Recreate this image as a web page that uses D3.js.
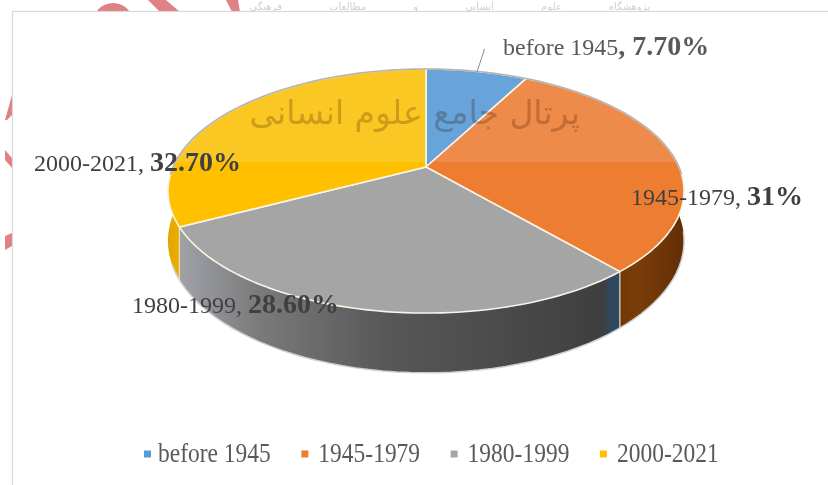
<!DOCTYPE html>
<html>
<head>
<meta charset="utf-8">
<script src="https://d3js.org/d3.v7.min.js"></script>
<style>
html, body { margin: 0; background: #fff; }
svg { display: block; }
text { font-family: "Liberation Serif", serif; }
</style>
</head>
<body>
<div id="chart"></div>
<script>
'use strict'

const categories = ['before 1945', '1945-1979', '1980-1999', '2000-2021']
const shares = [7.7, 31, 28.6, 32.7]
const shareLabels = ['7.70%', '31%', '28.60%', '32.70%']
const topColors = ['#5b9bd5', '#ed7d31', '#a5a5a5', '#ffc000']
const upperColors = ['#68a3da', '#ee8a4a', '#a8a8a8', '#fbc722']

const width = 828,
    height = 485

const svg = d3.select('#chart')
    .append('svg')
    .attr('width', width)
    .attr('height', height)

const defs = svg.append('defs')

defs.append('filter')
    .attr('id', 'scan')
    .append('feGaussianBlur')
    .attr('stdDeviation', 0.6)

// page behind the chart frame
const frame = { x: 12.5, y: 11.5 }

const decor = svg.append('g').attr('fill', '#df8285')
decor.append('circle').attr('cx', 113).attr('cy', 23).attr('r', 20)
decor.append('path').attr('d', 'M148,0 L166,0 L180,12 L160,12 Z')
decor.append('path').attr('d', 'M226,0 L238,0 L240,12 L232,12 Z')
decor.append('path').attr('d', 'M5,120 L12,95 L12,115 L7,120 Z')
decor.append('path').attr('d', 'M5,150 L12,158 L12,168 L5,160 Z')
decor.append('path').attr('d', 'M5,236 L12,233 L12,246 L5,250 Z')

svg.append('text')
    .attr('x', 650).attr('y', 10)
    .attr('direction', 'rtl')
    .style('font-family', '"DejaVu Sans"')
    .style('font-size', '10px')
    .style('word-spacing', '44px')
    .attr('fill', '#cfcfcf')
    .attr('filter', 'url(#scan)')
    .text('پژوهشگاه علوم انسانی و مطالعات فرهنگی')

svg.append('rect')
    .attr('x', frame.x).attr('y', frame.y)
    .attr('width', width + 5).attr('height', height)
    .attr('fill', '#fff')
    .attr('stroke', '#d9d9d9')
    .attr('stroke-width', 1.2)

// pie tilted in perspective: apex sits above the middle of the ellipse
const cx = 426,
    cy = 167,
    radiusX = 253,
    radiusY = 117.3,
    tilt = 0.197,
    depth = 48

const project = (angle, drop) => {
    const u = Math.sin(angle),
        v = -Math.cos(angle),
        w = 1 - tilt * v
    return [cx + radiusX * u / w, cy + radiusY * v / w + (drop || 0) / w]
}

const arcPoints = (a0, a1, drop) => d3.range(0, 61).map(i => project(a0 + (a1 - a0) * i / 60, drop))

const pie = d3.pie().sort(null).value(d => d)
const slices = pie(shares)
const line = d3.line()
const toAngle = d3.scaleLinear().domain([0, 1]).range([0, Math.PI * 2])

// side walls, drawn first so the top face hides what is behind
const wallGradient = (id, stops) => {
    const g = defs.append('linearGradient')
        .attr('id', id)
        .attr('gradientUnits', 'userSpaceOnUse')
        .attr('x1', 165).attr('x2', 690).attr('y1', 0).attr('y2', 0)
    stops.forEach(s => g.append('stop').attr('offset', s[0]).attr('stop-color', s[1]))
}
wallGradient('wall-2', [[0, '#a8a8a8'], [0.05, '#9a9ca2'], [0.18, '#7a7a7a'], [0.42, '#585858'], [0.7, '#474747'], [0.835, '#3e3e40'], [0.85, '#2f4a60'], [0.867, '#2f4a60']])
wallGradient('wall-1', [[0.84, '#6b3206'], [0.9, '#7a3d0a'], [1, '#5f2c05']])
wallGradient('wall-3', [[0, '#dfa400'], [0.04, '#f0b400']])

const wallRanges = [
    null,
    [toAngle(0.2), slices[1].endAngle],
    [slices[2].startAngle, slices[2].endAngle],
    [slices[3].startAngle, toAngle(0.8)]
]

const walls = svg.append('g')
wallRanges.forEach((range, i) => {
    if (!range) return
    const upper = arcPoints(range[0], range[1], 0),
        lower = arcPoints(range[0], range[1], depth).reverse()
    walls.append('path')
        .attr('d', line(upper.concat(lower)) + 'Z')
        .attr('fill', `url(#wall-${i})`)
})

// soft pale edge along the foot of the wall
walls.append('path')
    .attr('d', line(arcPoints(toAngle(0.27), toAngle(0.69), depth)))
    .attr('fill', 'none')
    .attr('stroke', '#cfcfcf')
    .attr('stroke-width', 1.5)

// seams where the slices meet on the wall
;[slices[1].endAngle, slices[2].endAngle].forEach(a => {
    walls.append('path')
        .attr('d', line([project(a, 0), project(a, depth)]))
        .attr('fill', 'none')
        .attr('stroke', '#e8dcc8')
        .attr('stroke-width', 1.2)
})

// top face, slightly paler above the scan seam
const seam = (162 - 69) / (313 - 69)
slices.forEach((d, i) => {
    const g = defs.append('linearGradient')
        .attr('id', `top-${i}`)
        .attr('gradientUnits', 'userSpaceOnUse')
        .attr('x1', 0).attr('x2', 0).attr('y1', 69).attr('y2', 313)
    g.append('stop').attr('offset', seam).attr('stop-color', upperColors[i])
    g.append('stop').attr('offset', seam).attr('stop-color', topColors[i])
})

svg.append('g')
    .selectAll('path')
    .data(slices)
    .join('path')
    .attr('d', d => line([[cx, cy]].concat(arcPoints(d.startAngle, d.endAngle, 0))) + 'Z')
    .attr('fill', (d, i) => `url(#top-${i})`)
    .attr('stroke', '#fbf4e6')
    .attr('stroke-width', 1.6)
    .attr('stroke-linejoin', 'round')

// grey edge round the back of the rim
svg.append('path')
    .attr('d', line(arcPoints(toAngle(-0.26), toAngle(0.26), 0)))
    .attr('fill', 'none')
    .attr('stroke', '#b4b4b4')
    .attr('stroke-width', 1.6)

// watermark printed over the pie
svg.append('text')
    .attr('x', 580).attr('y', 124)
    .attr('direction', 'rtl')
    .style('font-family', '"DejaVu Sans"')
    .style('font-size', '33px')
    .style('mix-blend-mode', 'multiply')
    .attr('fill', '#cfc9bf')
    .attr('filter', 'url(#scan)')
    .text('پرتال جامع علوم انسانی')

// leader line for the small slice
svg.append('line')
    .attr('x1', 484.5).attr('y1', 49)
    .attr('x2', 477).attr('y2', 72)
    .attr('stroke', '#8c8c8c')
    .attr('stroke-width', 1)

// data labels
const labelSpots = [
    { x: 503, y: 55, fill: '#595959' },
    { x: 631, y: 205, fill: '#404040' },
    { x: 132, y: 313, fill: '#404040' },
    { x: 34, y: 171, fill: '#404040' }
]

const labels = svg.append('g')
    .selectAll('text')
    .data(categories)
    .join('text')
    .attr('x', (d, i) => labelSpots[i].x)
    .attr('y', (d, i) => labelSpots[i].y)
    .attr('fill', (d, i) => labelSpots[i].fill)
    .style('font-size', '24px')

labels.append('tspan').text(d => d)
labels.append('tspan')
    .style('font-weight', (d, i) => i === 0 ? 'bold' : 'normal')
    .style('font-size', (d, i) => i === 0 ? '28px' : '24px')
    .text(', ')
labels.append('tspan')
    .style('font-weight', 'bold')
    .style('font-size', '28px')
    .text((d, i) => shareLabels[i])

// legend, text a little stretched upward like the scan
const legend = svg.append('g')
let legendX = 144
categories.forEach((name, i) => {
    const textX = legendX + 14 + (i ? 3 : 0)
    legend.append('rect')
        .attr('x', legendX).attr('y', 450.5)
        .attr('width', 7).attr('height', 7)
        .attr('fill', topColors[i])
    const label = legend.append('text')
        .attr('transform', `translate(${textX},462) scale(1,1.12)`)
        .attr('fill', '#595959')
        .style('font-size', '23.5px')
        .text(name)
    legendX = textX + label.node().getComputedTextLength() + 30.5
})
</script>
</body>
</html>
